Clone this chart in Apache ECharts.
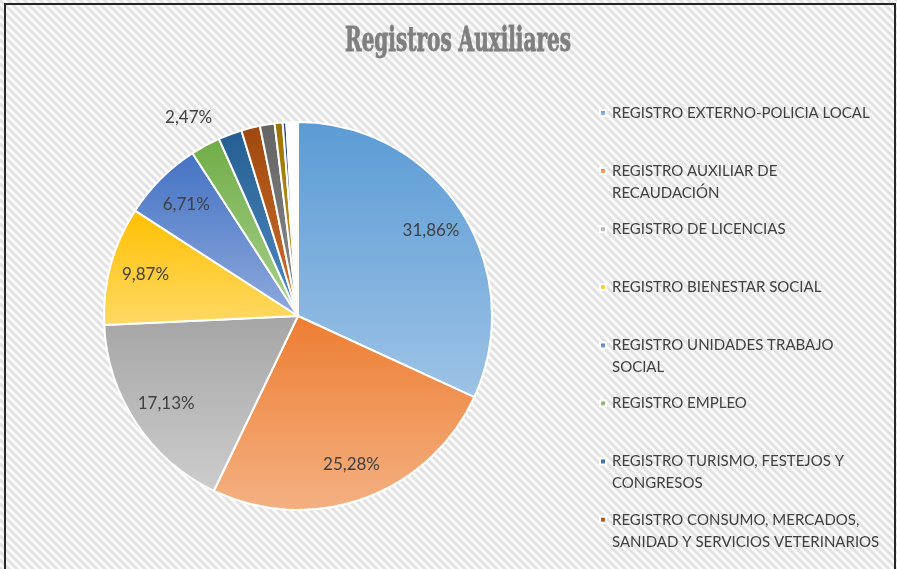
<!DOCTYPE html>
<html>
<head>
<meta charset="UTF-8">
<title>Registros Auxiliares</title>
<script src="https://cdn.jsdelivr.net/npm/echarts@6/dist/echarts.min.js"></script>
<style>
  html, body { margin: 0; padding: 0; background: #fff; }
  #main { width: 897px; height: 569px; }
</style>
</head>
<body>
<div id="main"></div>
<script>
// datos (porcentajes)
var nombres = [
  'REGISTRO EXTERNO-POLICIA LOCAL',
  'REGISTRO AUXILIAR DE RECAUDACIÓN',
  'REGISTRO DE LICENCIAS',
  'REGISTRO BIENESTAR SOCIAL',
  'REGISTRO UNIDADES TRABAJO SOCIAL',
  'REGISTRO EMPLEO',
  'REGISTRO TURISMO, FESTEJOS Y CONGRESOS',
  'REGISTRO CONSUMO, MERCADOS, SANIDAD Y SERVICIOS VETERINARIOS',
  'OTROS REGISTROS 1',
  'OTROS REGISTROS 2',
  'OTROS REGISTROS 3',
  'OTROS REGISTROS 4'
];
var valores = [31.86, 25.28, 17.13, 9.87, 6.71, 2.47, 1.97, 1.56, 1.22, 0.67, 0.30, 0.96];
// textos de la leyenda (solo se ven 8)
var leyenda = [
  'REGISTRO EXTERNO-POLICIA LOCAL',
  'REGISTRO AUXILIAR DE\nRECAUDACIÓN',
  'REGISTRO DE LICENCIAS',
  'REGISTRO BIENESTAR SOCIAL',
  'REGISTRO UNIDADES TRABAJO\nSOCIAL',
  'REGISTRO EMPLEO',
  'REGISTRO TURISMO, FESTEJOS Y\nCONGRESOS',
  'REGISTRO CONSUMO, MERCADOS,\nSANIDAD Y SERVICIOS VETERINARIOS'
];
var colores = ['#5B9BD5', '#ED7D31', '#A5A5A5', '#FFC000', '#4472C4', '#70AD47',
               '#255E91', '#9E480E', '#636363', '#997300', '#264478', '#FFFFFF'];
var coloresClaros = ['#9DC3E6', '#F4B183', '#CDCDCD', '#FFD966', '#8FAADC', '#A9D18E',
                     '#4F8CC4', '#D2702E', '#8E8E8E', '#C9A233', '#4D6FAF', '#FFFFFF'];

// fondo rayado
function rayado() {
  var c = document.createElement('canvas');
  c.width = 8; c.height = 8;
  var ctx = c.getContext('2d');
  ctx.fillStyle = '#fbfbfb';
  ctx.fillRect(0, 0, 8, 8);
  ctx.strokeStyle = '#e2e2e2';
  ctx.lineWidth = 3;
  ctx.beginPath();
  ctx.moveTo(-4, -4); ctx.lineTo(12, 12);
  ctx.moveTo(-4, 4); ctx.lineTo(4, 12);
  ctx.moveTo(4, -4); ctx.lineTo(12, 4);
  ctx.stroke();
  return c;
}

// titulo condensado
var fuenteTitulo = 'bold 33px "DejaVu Serif Condensed", "DejaVu Serif", serif';
var medida = document.createElement('canvas').getContext('2d');
medida.font = fuenteTitulo;
var escala = 226 / medida.measureText('Registros Auxiliares').width;

function gradiente(i) {
  return {
    type: 'linear', x: 0, y: 0, x2: 0, y2: 1,
    colorStops: [{ offset: 0, color: colores[i] }, { offset: 1, color: coloresClaros[i] }]
  };
}

var datosPie = nombres.map(function (n, i) {
  return { name: n, value: valores[i], itemStyle: { color: gradiente(i) } };
});

var datosEtiquetas = nombres.map(function (n, i) {
  var d = { name: n, value: valores[i] };
  if (i === 5) {
    d.label = { show: true, position: 'outside', distanceToLabelLine: -22 };
    d.labelLine = { show: false, length: 32, length2: 0 };
  } else if (i > 5) {
    d.label = { show: false };
  }
  return d;
});

// cada entrada de la leyenda va sola; el texto lleva una linea vacia arriba
// para que el cuadrito quede a la altura de la primera linea
var leyendas = leyenda.map(function (txt, i) {
  var dos = txt.indexOf('\n') >= 0;
  return {
    data: [nombres[i]],
    orient: 'vertical',
    left: 599,
    top: 112 + 58.1 * i - 32,
    padding: 0,
    itemWidth: 6,
    itemHeight: 6,
    icon: 'rect',
    selectedMode: false,
    formatter: function () { return '\n' + txt + (dos ? '' : '\n'); },
    textStyle: {
      fontFamily: 'Lato', fontSize: 15, color: '#404040', lineHeight: 22,
      padding: [0, 0, 0, 1]
    }
  };
});

var myChart = echarts.init(document.getElementById('main'));
var option = {
  animation: false,
  graphic: [
    { type: 'rect', z: -10, shape: { x: 0, y: 0, width: 897, height: 569 },
      style: { fill: { image: rayado(), repeat: 'repeat' } }, silent: true },
    { type: 'rect', z: -9, shape: { x: 5, y: 4, width: 890, height: 600 },
      style: { fill: null, stroke: '#262626', lineWidth: 2 }, silent: true },
    { type: 'text', x: 458, y: 42, scaleX: escala, silent: true,
      style: { text: 'Registros Auxiliares', font: fuenteTitulo, fill: '#7f7f7f',
               stroke: '#7f7f7f', lineWidth: 0.8, align: 'center', verticalAlign: 'middle' } }
  ],
  legend: leyendas,
  series: [
    {
      type: 'pie',
      center: [298, 316],
      radius: 194,
      startAngle: 90,
      clockwise: true,
      avoidLabelOverlap: false,
      label: { show: false },
      labelLine: { show: false },
      emphasis: { disabled: true },
      itemStyle: { borderColor: '#ffffff', borderWidth: 2 },
      data: datosPie
    },
    {
      // serie transparente solo para ubicar las etiquetas
      type: 'pie',
      center: [298, 316],
      radius: [116, 194],
      startAngle: 90,
      clockwise: true,
      silent: true,
      avoidLabelOverlap: false,
      emphasis: { disabled: true },
      itemStyle: { color: 'rgba(0,0,0,0)', borderWidth: 0 },
      label: {
        show: true, position: 'inside', fontFamily: 'Lato', fontSize: 17, color: '#404040',
        formatter: function (p) { return p.value.toFixed(2).replace('.', ',') + '%'; }
      },
      labelLine: { show: false },
      data: datosEtiquetas
    }
  ]
};
myChart.setOption(option);
</script>
</body>
</html>
